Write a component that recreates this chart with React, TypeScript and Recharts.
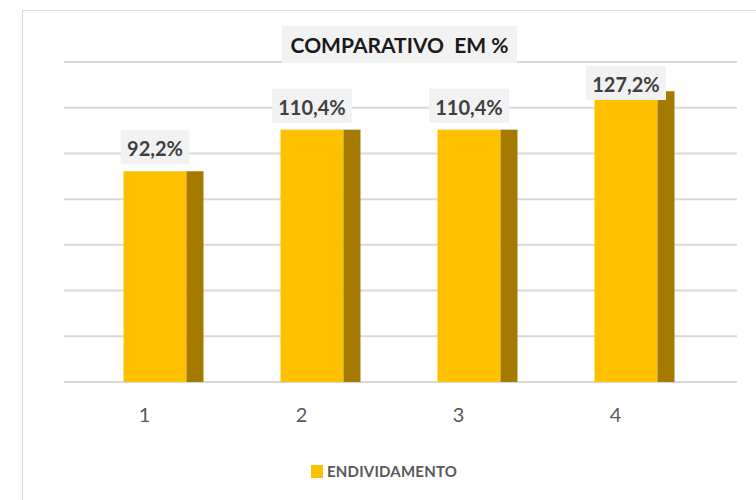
import React from 'react'
import { BarChart, Bar, XAxis, YAxis, CartesianGrid, LabelList, Legend } from 'recharts'

const categories = ['1', '2', '3', '4']
const endividamento = [92.2, 110.4, 110.4, 127.2]
const yTicks = [0, 20, 40, 60, 80, 100, 120, 140]
const seriesName = 'ENDIVIDAMENTO'
const title = 'COMPARATIVO\u00a0 EM %'

const data = categories.map((c, i) => ({ cat: c, value: endividamento[i] }))

const FRONT = '#FFC000'
const SIDE = '#A47B00'
const FONT = 'Lato, "Open Sans", sans-serif'

function fmt(v: number) {
  return v.toFixed(1).replace('.', ',') + '%'
}

// front face shifted right a bit, darker side face to fake the 3D look
const BarShape = (props: any) => {
  const { x, y, width, height } = props
  const fx = x + 10.5
  return (
    <g>
      <rect x={fx} y={y} width={width} height={height} fill={FRONT} />
      <rect x={fx + width} y={y} width={17} height={height} fill={SIDE} />
    </g>
  )
}

const DataLabel = (props: any) => {
  const { x, y, width, value } = props
  const txt = fmt(Number(value))
  const digits = txt.replace(/[^0-9]/g, '').length
  const w = digits * 11.5 + 5 + 17 + 12
  const cx = x + 10.5 + width / 2
  const top = Math.max(y - 41, 66)
  return (
    <g>
      <rect x={cx - w / 2} y={top} width={w} height={34} fill="#F2F2F2" />
      <text x={cx} y={top + 26} textAnchor="middle" fontFamily={FONT} fontWeight={700} fontSize={20} fill="#404040">
        {txt}
      </text>
    </g>
  )
}

const LegendContent = () => (
  <div style={{ display: 'flex', justifyContent: 'center', alignItems: 'center', fontFamily: FONT }}>
    <span style={{ display: 'inline-block', width: 12, height: 13, background: FRONT, marginRight: 4 }} />
    <span style={{ fontSize: 15, fontWeight: 700, color: '#595959', letterSpacing: 0.2 }}>{seriesName}</span>
  </div>
)

export default function App() {
  return (
    <div style={{ position: 'absolute', left: 0, top: 0, width: 756, height: 500, background: '#fff', overflow: 'hidden' }}>
      <div style={{ position: 'absolute', left: 22, top: 10, width: 800, height: 600, border: '1.5px solid #D9D9D9', boxSizing: 'border-box' }} />
      <div style={{ position: 'absolute', left: 0, top: 0 }}>
        {/* the legend's measured height is added to the bottom offset, so the margin is reduced by it */}
        <BarChart width={756} height={500} data={data} margin={{ top: 62, right: 19, bottom: 70, left: 64 }}>
          <CartesianGrid vertical={false} stroke="#D9D9D9" strokeWidth={2} />
          <YAxis hide domain={[0, 140]} ticks={yTicks} />
          <XAxis
            dataKey="cat"
            axisLine={false}
            tickLine={false}
            padding={{ left: 2, right: 43 }}
            tickMargin={20}
            tick={{ fontSize: 20, fill: '#595959', fontFamily: FONT }}
          />
          <Legend
            content={<LegendContent />}
            wrapperStyle={{ position: 'absolute', left: 0, top: 462, width: 768 }}
          />
          <Bar dataKey="value" name={seriesName} fill={FRONT} barSize={63} shape={<BarShape />} isAnimationActive={false}>
            <LabelList dataKey="value" content={<DataLabel />} />
          </Bar>
        </BarChart>
      </div>
      <div
        style={{
          position: 'absolute',
          left: 282,
          top: 26,
          width: 235,
          height: 37,
          background: '#F2F2F2',
          display: 'flex',
          alignItems: 'center',
          justifyContent: 'center',
          fontFamily: FONT,
          fontWeight: 700,
          fontSize: 21,
          color: '#1a1a1a',
        }}
      >
        {title}
      </div>
    </div>
  )
}
